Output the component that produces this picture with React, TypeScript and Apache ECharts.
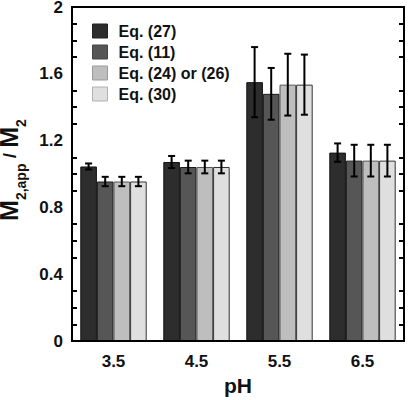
import React, { useEffect, useRef } from "react";
import * as echarts from "echarts";

const categories = ["3.5", "4.5", "5.5", "6.5"];
const seriesNames = ["Eq. (27)", "Eq. (11)", "Eq. (24) or (26)", "Eq. (30)"];
const eq27 = [1.045, 1.072, 1.55, 1.128];
const eq11 = [0.955, 1.042, 1.48, 1.08];
const eq24 = [0.955, 1.042, 1.535, 1.08];
const eq30 = [0.955, 1.042, 1.535, 1.08];
const err27 = [0.018, 0.036, 0.21, 0.055];
const err11 = [0.028, 0.038, 0.155, 0.095];
const err24 = [0.028, 0.038, 0.185, 0.095];
const err30 = [0.028, 0.038, 0.18, 0.095];
const colors = ["#2d2d2d", "#565656", "#bebebe", "#dfdfdf"];
const borders = ["#111111", "#1a1a1a", "#555555", "#333333"];
const legendBorders = ["#222222", "#444444", "#9a9a9a", "#b0b0b0"];

const values = [eq27, eq11, eq24, eq30];
const errors = [err27, err11, err24, err30];

const GRID = { left: 72, right: 4, top: 7, bottom: 59 };

export default function App() {
  const ref = useRef<HTMLDivElement>(null);
  useEffect(() => {
    if (!ref.current) return;
    const chart = echarts.init(ref.current, undefined, { renderer: "svg" });
    const errData: number[][] = [];
    values.forEach((arr, s) =>
      arr.forEach((v, c) => errData.push([c, v, errors[s][c], s]))
    );
    const font = "Liberation Sans, Arial, sans-serif";
    const W = 408, H = 400;
    const x0 = GRID.left, x1 = W - GRID.right, y0 = GRID.top, y1 = H - GRID.bottom;
    const frameStyle = { stroke: "#000", lineWidth: 2 };
    const option: any = {
      animation: false,
      grid: { ...GRID, outerBoundsMode: "none", containLabel: false },
      graphic: [
        { type: "line", z: 100, silent: true, shape: { x1: x0, y1: y0, x2: x1, y2: y0 }, style: frameStyle },
        { type: "line", z: 100, silent: true, shape: { x1: x0, y1: y1, x2: x1, y2: y1 }, style: frameStyle },
        { type: "line", z: 100, silent: true, shape: { x1: x0, y1: y0 - 1, x2: x0, y2: y1 + 1 }, style: frameStyle },
        { type: "line", z: 100, silent: true, shape: { x1: x1, y1: y0 - 1, x2: x1, y2: y1 + 1 }, style: frameStyle },
      ],
      legend: {
        orient: "vertical",
        left: 87,
        top: 18,
        itemWidth: 15,
        itemHeight: 14,
        itemGap: 5,
        icon: "rect",
        textStyle: {
          fontFamily: font,
          fontWeight: "bold",
          fontSize: 16,
          color: "#111",
          padding: [0, 0, 0, 6],
        },
        data: seriesNames.map((n, i) => ({
          name: n,
          itemStyle: { borderColor: legendBorders[i], borderWidth: 1 },
        })),
      },
      xAxis: [
        {
          type: "category",
          data: categories,
          name: "pH",
          nameLocation: "middle",
          nameGap: 33,
          nameTextStyle: { fontFamily: font, fontWeight: "bold", fontSize: 21, color: "#111" },
          axisLine: { show: true, lineStyle: { color: "#000", width: 2 } },
          axisTick: { inside: true, length: 6, lineStyle: { color: "#000", width: 2 } },
          axisLabel: { fontFamily: font, fontWeight: "bold", fontSize: 17, color: "#111", margin: 12 },
        },
        {
          type: "category",
          data: categories,
          position: "top",
          axisLine: { show: true, lineStyle: { color: "#000", width: 2 } },
          axisTick: { inside: true, length: 6, lineStyle: { color: "#000", width: 2 } },
          axisLabel: { show: false },
        },
      ],
      yAxis: [
        {
          type: "value",
          min: 0,
          max: 2,
          interval: 0.4,
          name: "{m|M}{s|2,app}{t| / }{m|M}{s|2}",
          nameLocation: "middle",
          nameGap: 39,
          nameTextStyle: {
            padding: [0, 0, 0, 8],
            rich: {
              m: { fontFamily: font, fontWeight: "bold", fontSize: 25, color: "#111", verticalAlign: "bottom" },
              t: { fontFamily: font, fontWeight: "bold", fontSize: 19, color: "#111", verticalAlign: "bottom", padding: [0, 0, 2, 0] },
              s: {
                fontFamily: font,
                fontWeight: "bold",
                fontSize: 14,
                color: "#111",
                verticalAlign: "bottom",
                padding: [0, 0, -7, 0],
              },
            },
          },
          axisLine: { show: true, lineStyle: { color: "#000", width: 2 } },
          axisTick: { inside: true, length: 7, lineStyle: { color: "#000", width: 2 } },
          minorTick: { show: true, splitNumber: 4, length: 5, lineStyle: { color: "#000", width: 2 } },
          splitLine: { show: false },
          axisLabel: {
            fontFamily: font,
            fontWeight: "bold",
            fontSize: 17,
            color: "#111",
            margin: 9,
            formatter: (v: number) => (v === 0 ? "0" : v === 2 ? "2" : v.toFixed(1)),
          },
        },
        {
          type: "value",
          min: 0,
          max: 2,
          interval: 0.4,
          position: "right",
          axisLine: { show: true, lineStyle: { color: "#000", width: 2 } },
          axisTick: { inside: true, length: 7, lineStyle: { color: "#000", width: 2 } },
          minorTick: { show: true, splitNumber: 4, length: 5, lineStyle: { color: "#000", width: 2 } },
          splitLine: { show: false },
          axisLabel: { show: false },
        },
      ],
      series: [
        ...values.map((arr, i) => ({
          type: "bar",
          name: seriesNames[i],
          data: arr,
          barGap: "0%",
          barCategoryGap: "20%",
          itemStyle: { color: colors[i], borderColor: borders[i], borderWidth: 1 },
        })),
        {
          type: "custom",
          data: errData,
          z: 10,
          renderItem: (params: any, api: any) => {
            const c = api.value(0);
            const v = api.value(1);
            const e = api.value(2);
            const s = api.value(3);
            const band = api.size([1, 0])[0];
            const top = api.coord([c, v + e]);
            const bot = api.coord([c, v - e]);
            const x = top[0] + (-0.3 + 0.2 * s) * band;
            const hw = 3.5;
            const style = { stroke: "#000", lineWidth: 2 };
            return {
              type: "group",
              children: [
                { type: "line", shape: { x1: x, y1: top[1], x2: x, y2: bot[1] }, style },
                { type: "line", shape: { x1: x - hw, y1: top[1], x2: x + hw, y2: top[1] }, style },
                { type: "line", shape: { x1: x - hw, y1: bot[1], x2: x + hw, y2: bot[1] }, style },
              ],
            };
          },
        },
      ],
    };
    chart.setOption(option);
    return () => chart.dispose();
  }, []);
  return <div ref={ref} style={{ width: 408, height: 400, position: "absolute", left: 0, top: 0 }} />;
}
